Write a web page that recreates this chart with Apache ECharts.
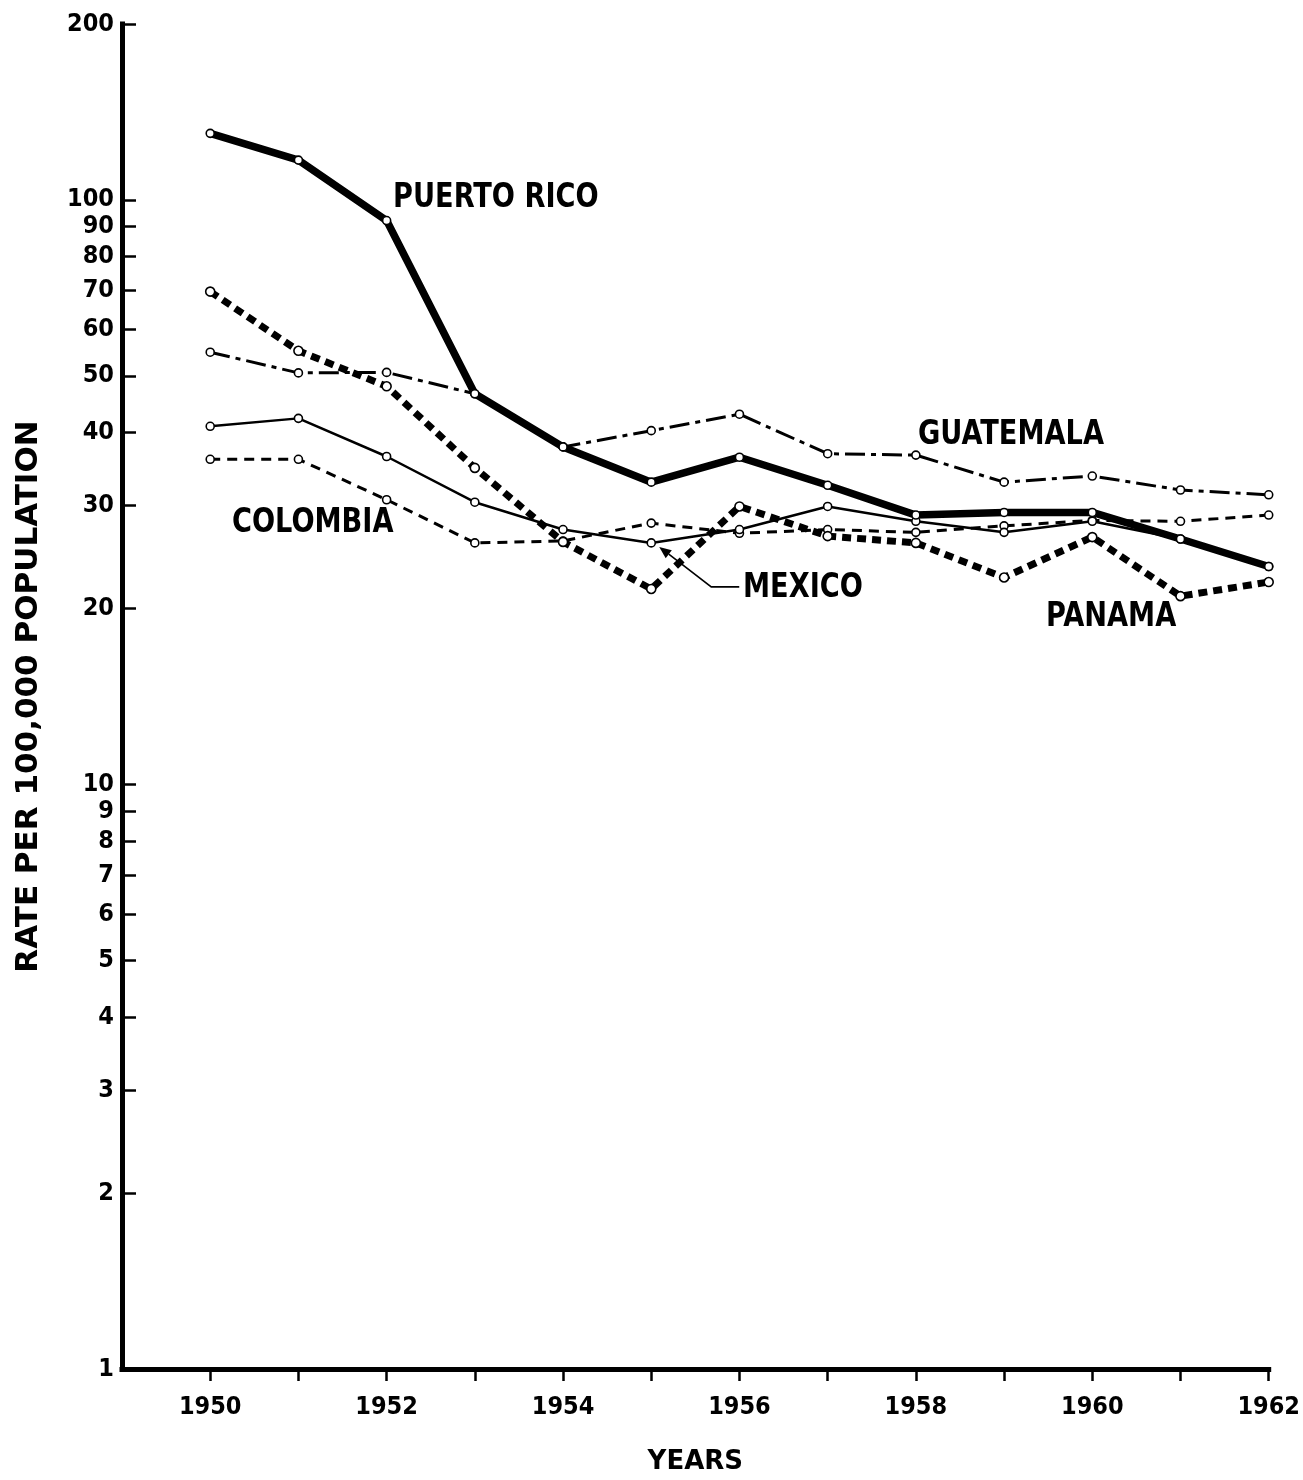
<!DOCTYPE html>
<html>
<head>
<meta charset="utf-8">
<script src="https://cdn.jsdelivr.net/npm/echarts@6/dist/echarts.min.js"></script>
<style>
  html, body { margin: 0; padding: 0; background: #fff; }
  #chart { width: 1303px; height: 1480px; }
</style>
</head>
<body>
<div id="chart"></div>
<script>
// Death rates per 100,000 population, 1950-1962
const years = [1950, 1951, 1952, 1953, 1954, 1955, 1956, 1957, 1958, 1959, 1960, 1961, 1962];
const puertoRico = [130, 117, 92.2, 46.6, 37.8, 32.9, 36.3, 32.5, 28.9, 29.2, 29.2, 26.3, 23.6];
const guatemala  = [54.9, 50.6, 50.7, 46.6, 37.8, 40.3, 43.0, 36.8, 36.6, 32.9, 33.7, 31.9, 31.3];
const mexico     = [41.0, 42.3, 36.4, 30.4, 27.3, 25.9, 27.3, 29.9, 28.2, 27.0, 28.2, 26.3, 23.6];
const colombia   = [36.0, 36.0, 30.7, 25.9, 26.1, 28.0, 26.9, 27.3, 27.0, 27.7, 28.3, 28.2, 28.9];
const panama     = [69.7, 55.2, 48.0, 34.8, 26.0, 21.6, 29.9, 26.6, 25.9, 22.6, 26.5, 21.0, 22.2];

// Axis ticks and labels
const yTicks = [1, 2, 3, 4, 5, 6, 7, 8, 9, 10, 20, 30, 40, 50, 60, 70, 80, 90, 100, 200];
const xTicks = [1950, 1951, 1952, 1953, 1954, 1955, 1956, 1957, 1958, 1959, 1960, 1961, 1962];
const xLabels = [1950, 1952, 1954, 1956, 1958, 1960, 1962];

const pairs = vals => years.map((y, i) => [y, vals[i]]);

const condensed = '"Liberation Sans Narrow", "DejaVu Sans Condensed", "Roboto Condensed", sans-serif';
const wide = '"DejaVu Sans", "Liberation Sans", Arial, sans-serif';

const markerStyle = { color: '#fff', borderColor: '#000', borderWidth: 1.6 };

function lineSeries(name, vals, width, type, symbolSize, z) {
  return {
    name, type: 'line', data: pairs(vals), z,
    symbol: 'circle', symbolSize,
    itemStyle: markerStyle,
    lineStyle: { color: '#000', width, type, cap: 'butt', join: 'round' },
    emphasis: { disabled: true },
    animation: false
  };
}

const chart = echarts.init(document.getElementById('chart'), null, { renderer: 'canvas' });

chart.setOption({
  backgroundColor: '#fff',
  animation: false,
  grid: { left: 122, right: 33, top: 24, bottom: 103, containLabel: false },
  xAxis: {
    type: 'value', min: 1949, max: 1962, interval: 1,
    name: 'YEARS', nameLocation: 'middle', nameGap: 80,
    nameTextStyle: { fontFamily: wide, fontWeight: 'bold', fontSize: 26, color: '#000' },
    axisLine: { show: true, onZero: false, lineStyle: { color: '#000', width: 5, cap: 'square' } },
    axisTick: { show: true, customValues: xTicks, length: 12, lineStyle: { color: '#000', width: 2.5 } },
    axisLabel: {
      customValues: xLabels, margin: 26, color: '#000',
      fontFamily: condensed, fontWeight: 'bold', fontSize: 25,
      formatter: v => String(v)
    },
    splitLine: { show: false }
  },
  yAxis: {
    type: 'log', logBase: 10, min: 1, max: 200,
    name: 'RATE PER 100,000 POPULATION', nameLocation: 'middle', nameGap: 78, nameRotate: 90,
    nameTextStyle: { fontFamily: wide, fontWeight: 'bold', fontSize: 31, color: '#000' },
    axisLine: { show: true, onZero: false, lineStyle: { color: '#000', width: 5, cap: 'square' } },
    axisTick: { show: true, inside: true, customValues: yTicks, length: 14, lineStyle: { color: '#000', width: 2.5 } },
    axisLabel: {
      customValues: yTicks, margin: 8, color: '#000',
      fontFamily: condensed, fontWeight: 'bold', fontSize: 25,
      formatter: v => String(Math.round(v))
    },
    splitLine: { show: false }
  },
  series: [
    lineSeries('COLOMBIA', colombia, 3, [10, 7], 8, 2),
    lineSeries('MEXICO', mexico, 2.5, 'solid', 8, 3),
    lineSeries('GUATEMALA', guatemala, 3, [20, 6, 5, 6], 8, 4),
    lineSeries('PANAMA', panama, 7, [9, 6], 9, 5),
    lineSeries('PUERTO RICO', puertoRico, 7.5, 'solid', 8, 6)
  ]
});

// Series name labels and the MEXICO pointer
const labelFont = { fontFamily: condensed, fontWeight: 'bold', fontSize: 34, fill: '#000' };
function label(text, x, y) {
  return {
    type: 'text', x, y, z: 100, scaleX: 0.89,
    style: Object.assign({ text, textVerticalAlign: 'middle' }, labelFont)
  };
}

const tip = chart.convertToPixel({ gridIndex: 0 }, [1955, mexico[5]]);
const tx = tip[0] + 8, ty = tip[1] + 4;
const elbow = [tx + 52, ty + 40];
const angle = Math.atan2(elbow[1] - ty, elbow[0] - tx);
const ah = 12, aw = 5;
const bx = tx + Math.cos(angle) * ah, by = ty + Math.sin(angle) * ah;
const px = -Math.sin(angle) * aw, py = Math.cos(angle) * aw;

chart.setOption({
  graphic: [
    label('PUERTO RICO', 393, 198),
    label('GUATEMALA', 918, 435),
    label('COLOMBIA', 232, 523),
    label('MEXICO', 743, 588),
    label('PANAMA', 1046, 617),
    {
      type: 'polyline', z: 100,
      shape: { points: [[bx, by], elbow, [elbow[0] + 28, elbow[1]]] },
      style: { stroke: '#000', lineWidth: 1.6, fill: null }
    },
    {
      type: 'polygon', z: 100,
      shape: { points: [[tx, ty], [bx + px, by + py], [bx - px, by - py]] },
      style: { fill: '#000' }
    }
  ]
});
</script>
</body>
</html>
